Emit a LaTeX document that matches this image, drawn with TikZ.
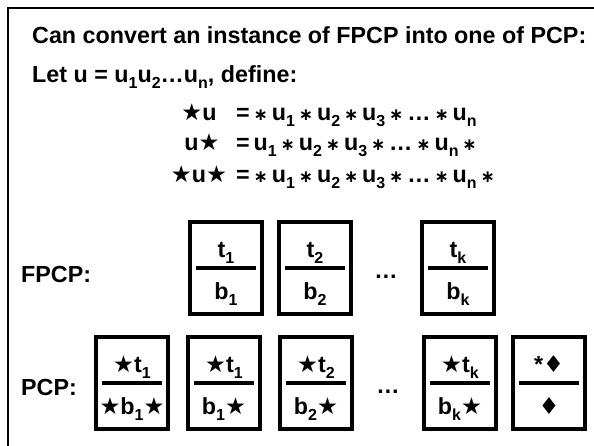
\documentclass[tikz,border=0pt]{standalone}
\usepackage{fontspec}
\setmainfont{Liberation Sans}
\newfontfamily\symfont{DejaVu Sans}
\newcommand{\subx}[1]{\raisebox{-0.3em}{\fontsize{16}{16}\selectfont #1}}
\newcommand{\st}{{\symfont ★}}
\newcommand{\sm}{{\fontsize{17}{17}\symfont ∗}}
\newcommand{\dia}{{\symfont ♦}}
\newcommand{\tightsp}{\spaceskip=3.9pt\relax}
\begin{document}
\begin{tikzpicture}[x=1pt, y=-1pt,
		every node/.style={font=\fontsize{23.3}{27}\selectfont\bfseries, inner sep=0pt},
		card/.style={draw, line width=4.5pt, minimum width=72pt, minimum height=92pt},
		bar/.style={line width=4.5pt},
		txt/.style={anchor=base},
		rhs/.style={anchor=base west}]
		
		\useasboundingbox (0,0) rectangle (594,445);
		
		% Frame
		\coordinate (fb) at (8,446);
		\coordinate (fc) at (8,8);
		\coordinate (fr) at (595,8);
		\draw[line width=2.5pt] (fb) -- (fc) -- (fr);
		
		% Header lines
		\node[anchor=base west] (head) at (32,43) {Can convert an instance of FPCP into one of PCP:};
		\node[anchor=base west] (let) at (32,82) {Let u = u\subx{1}u\subx{2}\dots u\subx{n}, define:};
		
		% Definitions
		\node[txt] (l1) at (199,120) {\st u};
		\node[txt] (l2) at (202,150) {u\st};
		\node[txt] (l3) at (199,182) {\st u\st};
		\node[rhs] (r1) at (236,120) {\tightsp = \sm{} u\subx{1} \sm{} u\subx{2} \sm{} u\subx{3} \sm{} \dots{} \sm{} u\subx{n}};
		\node[rhs] (r2) at (236,150) {\tightsp = u\subx{1} \sm{} u\subx{2} \sm{} u\subx{3} \sm{} \dots{} \sm{} u\subx{n} \sm};
		\node[rhs] (r3) at (236,182) {\tightsp = \sm{} u\subx{1} \sm{} u\subx{2} \sm{} u\subx{3} \sm{} \dots{} \sm{} u\subx{n} \sm};
		
		% FPCP row
		\node[anchor=west] (fpcp) at (21,274) {FPCP:};
		\node[card] (f1) at (226,268) {};
		\node[card] (f2) at (315,268) {};
		\node[card] (f3) at (458,268) {};
		\node[txt] (fdots) at (386,278) {\dots};
		
		\draw[bar] ([xshift=8pt]f1.west) -- ([xshift=-8pt]f1.east);
		\draw[bar] ([xshift=8pt]f2.west) -- ([xshift=-8pt]f2.east);
		\draw[bar] ([xshift=8pt]f3.west) -- ([xshift=-8pt]f3.east);
		
		\node[txt] (f1t) at ([yshift=11pt]f1.center) {t\subx{1}};
		\node[txt] (f1b) at ([yshift=-31pt]f1.center) {b\subx{1}};
		\node[txt] (f2t) at ([yshift=11pt]f2.center) {t\subx{2}};
		\node[txt] (f2b) at ([yshift=-31pt]f2.center) {b\subx{2}};
		\node[txt] (f3t) at ([yshift=11pt]f3.center) {t\subx{k}};
		\node[txt] (f3b) at ([yshift=-31pt]f3.center) {b\subx{k}};
		
		% PCP row
		\node[anchor=west] (pcp) at (21,387) {PCP:};
		\node[card] (p1) at (132,383) {};
		\node[card] (p2) at (224,383) {};
		\node[card] (p3) at (316,383) {};
		\node[card] (p4) at (460,383) {};
		\node[card] (p5) at (549,383) {};
		\node[txt] (pdots) at (388,393) {\dots};
		
		\draw[bar] ([xshift=8pt]p1.west) -- ([xshift=-8pt]p1.east);
		\draw[bar] ([xshift=8pt]p2.west) -- ([xshift=-8pt]p2.east);
		\draw[bar] ([xshift=8pt]p3.west) -- ([xshift=-8pt]p3.east);
		\draw[bar] ([xshift=8pt]p4.west) -- ([xshift=-8pt]p4.east);
		\draw[bar] ([xshift=8pt]p5.west) -- ([xshift=-8pt]p5.east);
		
		\node[txt] (p1t) at ([yshift=11pt]p1.center) {\st t\subx{1}};
		\node[txt] (p1b) at ([yshift=-31pt]p1.center) {\st b\subx{1}\st};
		\node[txt] (p2t) at ([yshift=11pt]p2.center) {\st t\subx{1}};
		\node[txt] (p2b) at ([yshift=-31pt]p2.center) {b\subx{1}\st};
		\node[txt] (p3t) at ([yshift=11pt]p3.center) {\st t\subx{2}};
		\node[txt] (p3b) at ([yshift=-31pt]p3.center) {b\subx{2}\st};
		\node[txt] (p4t) at ([yshift=11pt]p4.center) {\st t\subx{k}};
		\node[txt] (p4b) at ([yshift=-31pt]p4.center) {b\subx{k}\st};
		\node[txt] (p5t) at ([yshift=11pt]p5.center) {*\dia};
		\node[txt] (p5b) at ([yshift=-31pt]p5.center) {\dia};
		
	\end{tikzpicture}
\end{document}
